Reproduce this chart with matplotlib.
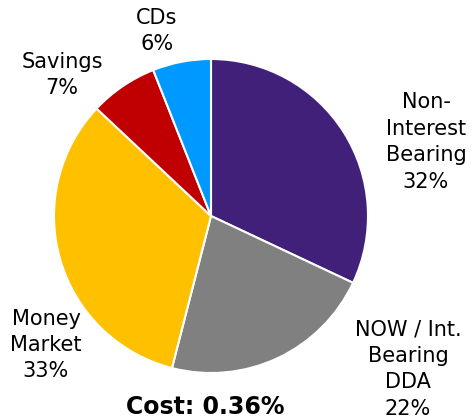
import matplotlib
matplotlib.use("Agg")
import matplotlib.pyplot as plt

categories = ["Non-\nInterest\nBearing", "NOW / Int.\nBearing\nDDA", "Money\nMarket", "Savings", "CDs"]
shares = [32, 22, 33, 7, 6]
colors = ["#41207A", "#808080", "#FFC000", "#C00000", "#0099FF"]
cost_text = "Cost: 0.36%"

# label anchor points in pixel space (x, y from top)
label_pos = [(426, 142), (408, 369), (46, 345), (62, 75), (157, 31)]

W, H = 475, 418
fig = plt.figure(figsize=(W / 100, H / 100), dpi=100)
ax = fig.add_axes([0, 0, 1, 1])

ax.pie(shares, colors=colors, startangle=90, counterclock=False,
       center=(211, H - 216), radius=157,
       wedgeprops=dict(edgecolor="white", linewidth=1.5))

ax.set_xlim(0, W)
ax.set_ylim(0, H)
ax.set_aspect("equal")
ax.axis("off")

for name, val, (x, y) in zip(categories, shares, label_pos):
    ax.text(x, H - y, "%s\n%d%%" % (name, val), ha="center", va="center",
            fontsize=15, linespacing=1.4, color="black")

ax.text(205, H - 407, cost_text, ha="center", va="center",
        fontsize=17, fontweight="bold", color="black")

fig.savefig("out.png", dpi=100)
